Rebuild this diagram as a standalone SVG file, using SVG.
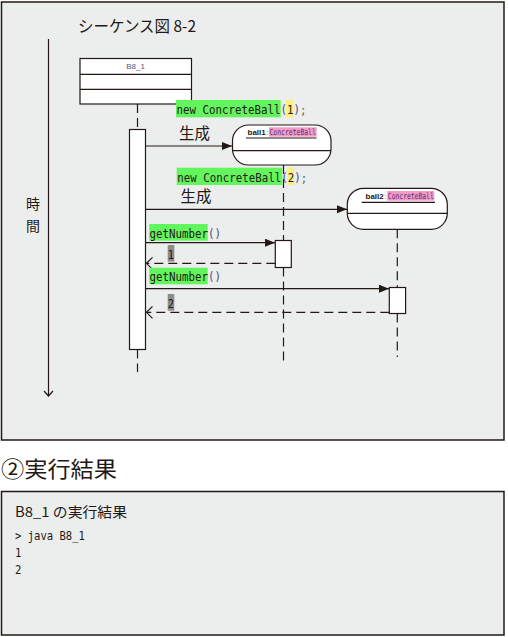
<svg xmlns="http://www.w3.org/2000/svg" width="508" height="637" viewBox="0 0 508 637">
<defs>
<style>
.panel{fill:#eceeed;stroke:#231815;stroke-width:1.5}
.ln{stroke:#231815;stroke-width:1.2;fill:none}
.dash{stroke:#231815;stroke-width:1.2;fill:none;stroke-dasharray:9,5}
.box{fill:#ffffff;stroke:#231815;stroke-width:1.2}
.jp{font-family:"Noto Sans CJK JP","Noto Sans",sans-serif;fill:#231815}
.mono{font-family:"DejaVu Sans Mono","Liberation Mono",monospace;font-size:13px;fill:#231815}
.cb{font-family:"DejaVu Sans Mono","Liberation Mono",monospace;font-size:8.5px;fill:#5b2c83}
.par{fill:#3f4d80}
.semi{fill:#666666}
.green{fill:#62f55e}
.yellow{fill:#fdf07a}
.pink{fill:#f29bc3}
.grey{fill:#8c8c8c}
.small{font-family:"Liberation Sans","DejaVu Sans",sans-serif;font-size:8px;fill:#231815}
</style>
<marker id="filled" markerUnits="userSpaceOnUse" markerWidth="12" markerHeight="10" refX="10" refY="4" orient="auto">
<path d="M0,0 L10,4 L0,8 Z" fill="#231815"/>
</marker>
<marker id="open" markerUnits="userSpaceOnUse" markerWidth="10" markerHeight="14" refX="7" refY="7" orient="auto">
<path d="M1,1 L7,7 L1,13" fill="none" stroke="#231815" stroke-width="1.2"/>
</marker>
</defs>

<rect class="panel" x="1.5" y="2" width="502.5" height="438"/>
<rect class="panel" x="1.5" y="491.5" width="502.5" height="143.5"/>

<text class="jp" x="78" y="32" font-size="16" textLength="118" lengthAdjust="spacingAndGlyphs">シーケンス図 8-2</text>

<g id="time">
<line class="ln" x1="48.5" y1="39" x2="48.5" y2="396"/>
<path class="ln" d="M44,391 L48.5,396 L53,391"/>
<text class="jp" x="33" y="209" font-size="14" text-anchor="middle">時</text>
<text class="jp" x="33" y="231" font-size="14" text-anchor="middle">間</text>
</g>

<g id="b8_1">
<rect class="box" x="80" y="58.5" width="111.5" height="45.5"/>
<line class="ln" x1="80" y1="74.3" x2="191.5" y2="74.3"/>
<line class="ln" x1="80" y1="89.3" x2="191.5" y2="89.3"/>
<text class="small" x="135.5" y="69" text-anchor="middle" style="fill:#4a5a80">B8_1</text>
<line class="dash" x1="137.5" y1="104" x2="137.5" y2="129.5"/>
<rect class="box" x="129.5" y="129.5" width="16" height="220"/>
<line class="dash" x1="137.5" y1="349.5" x2="137.5" y2="372"/>
</g>

<g id="ball1">
<line class="dash" x1="283.5" y1="165" x2="283.5" y2="240.5"/>
<line class="dash" x1="283.5" y1="267.5" x2="283.5" y2="363"/>
<rect class="box" x="232.5" y="125" width="98.5" height="40" rx="16" ry="16"/>
<line class="ln" x1="232.5" y1="150.7" x2="331" y2="150.7"/>
<line class="ln" x1="246" y1="138" x2="316.5" y2="138"/>
<rect class="pink" x="269" y="127.3" width="47.7" height="9.4"/>
<text class="small" x="247.5" y="135"><tspan font-weight="bold">ball1</tspan><tspan fill="#555" dx="0.5">:</tspan></text>
<text class="cb" transform="translate(269.5,135) scale(0.757,1)">ConcreteBall</text>
<rect class="box" x="275.3" y="240.5" width="16" height="27"/>
</g>

<g id="ball2">
<line class="dash" x1="397.3" y1="229.3" x2="397.3" y2="287.5"/>
<line class="dash" x1="397.3" y1="313.5" x2="397.3" y2="357"/>
<rect class="box" x="347.3" y="188.3" width="100" height="41" rx="16" ry="16"/>
<line class="ln" x1="347.3" y1="213.3" x2="447.3" y2="213.3"/>
<line class="ln" x1="361.7" y1="202.3" x2="435" y2="202.3"/>
<rect class="pink" x="387.3" y="191" width="47" height="9.7"/>
<text class="small" x="365.5" y="199"><tspan font-weight="bold">ball2</tspan><tspan fill="#555" dx="0.5">:</tspan></text>
<text class="cb" transform="translate(387.8,199) scale(0.75,1)">ConcreteBall</text>
<rect class="box" x="389.3" y="287.5" width="16.3" height="26"/>
</g>

<g id="connectors">
<line class="ln" x1="145.5" y1="146" x2="232" y2="146" marker-end="url(#filled)"/>
<line class="ln" x1="145.5" y1="209.3" x2="347" y2="209.3" marker-end="url(#filled)"/>
<line class="ln" x1="145.5" y1="242.7" x2="275" y2="242.7" marker-end="url(#filled)"/>
<line class="dash" x1="275.3" y1="263.3" x2="146.5" y2="263.3" marker-end="url(#open)"/>
<line class="ln" x1="145.5" y1="288.7" x2="389" y2="288.7" marker-end="url(#filled)"/>
<line class="dash" x1="389.3" y1="312.3" x2="146.5" y2="312.3" marker-end="url(#open)"/>
</g>

<g id="labels">
<rect class="green" x="176" y="100" width="104.7" height="17.3"/>
<rect class="yellow" x="286" y="100" width="7.3" height="17.3"/>
<text class="mono" transform="translate(176.5,114) scale(0.8306,1)">new ConcreteBall<tspan class="par">(</tspan>1<tspan class="par">)</tspan><tspan class="semi">;</tspan></text>
<text class="jp" x="179" y="138.5" font-size="15.5">生成</text>

<rect class="green" x="176.7" y="167.7" width="105.6" height="17.3"/>
<rect class="yellow" x="287.3" y="167.7" width="6.7" height="17.3"/>
<text class="mono" transform="translate(177.3,181.5) scale(0.8306,1)">new ConcreteBall<tspan class="par">(</tspan>2<tspan class="par">)</tspan><tspan class="semi">;</tspan></text>
<text class="jp" x="180.5" y="202" font-size="15.5">生成</text>

<rect class="green" x="149.3" y="224" width="58.4" height="16.7"/>
<text class="mono" transform="translate(149.5,237.5) scale(0.8306,1)">getNumber<tspan class="par">()</tspan></text>
<rect class="grey" x="167.7" y="245" width="6.6" height="16.7"/>
<text class="mono" transform="translate(167.8,258.5) scale(0.8,1)">1</text>

<rect class="green" x="149.3" y="267.7" width="58.4" height="16.6"/>
<text class="mono" transform="translate(149.5,281) scale(0.8306,1)">getNumber<tspan class="par">()</tspan></text>
<rect class="grey" x="167.7" y="294" width="6.6" height="16.7"/>
<text class="mono" transform="translate(167.8,307.5) scale(0.8,1)">2</text>
</g>

<text class="jp" x="1" y="477" font-size="22" textLength="116" lengthAdjust="spacingAndGlyphs">②実行結果</text>

<g id="result">
<text class="jp" x="15" y="517" font-size="14" textLength="112" lengthAdjust="spacingAndGlyphs">B8_1 の実行結果</text>
<text class="mono" style="font-size:12px" transform="translate(15,540) scale(0.88,1)">&gt; java B8_1</text>
<text class="mono" style="font-size:12.5px" transform="translate(15,557) scale(0.85,1)">1</text>
<text class="mono" style="font-size:12.5px" transform="translate(15,573.5) scale(0.85,1)">2</text>
</g>
</svg>
